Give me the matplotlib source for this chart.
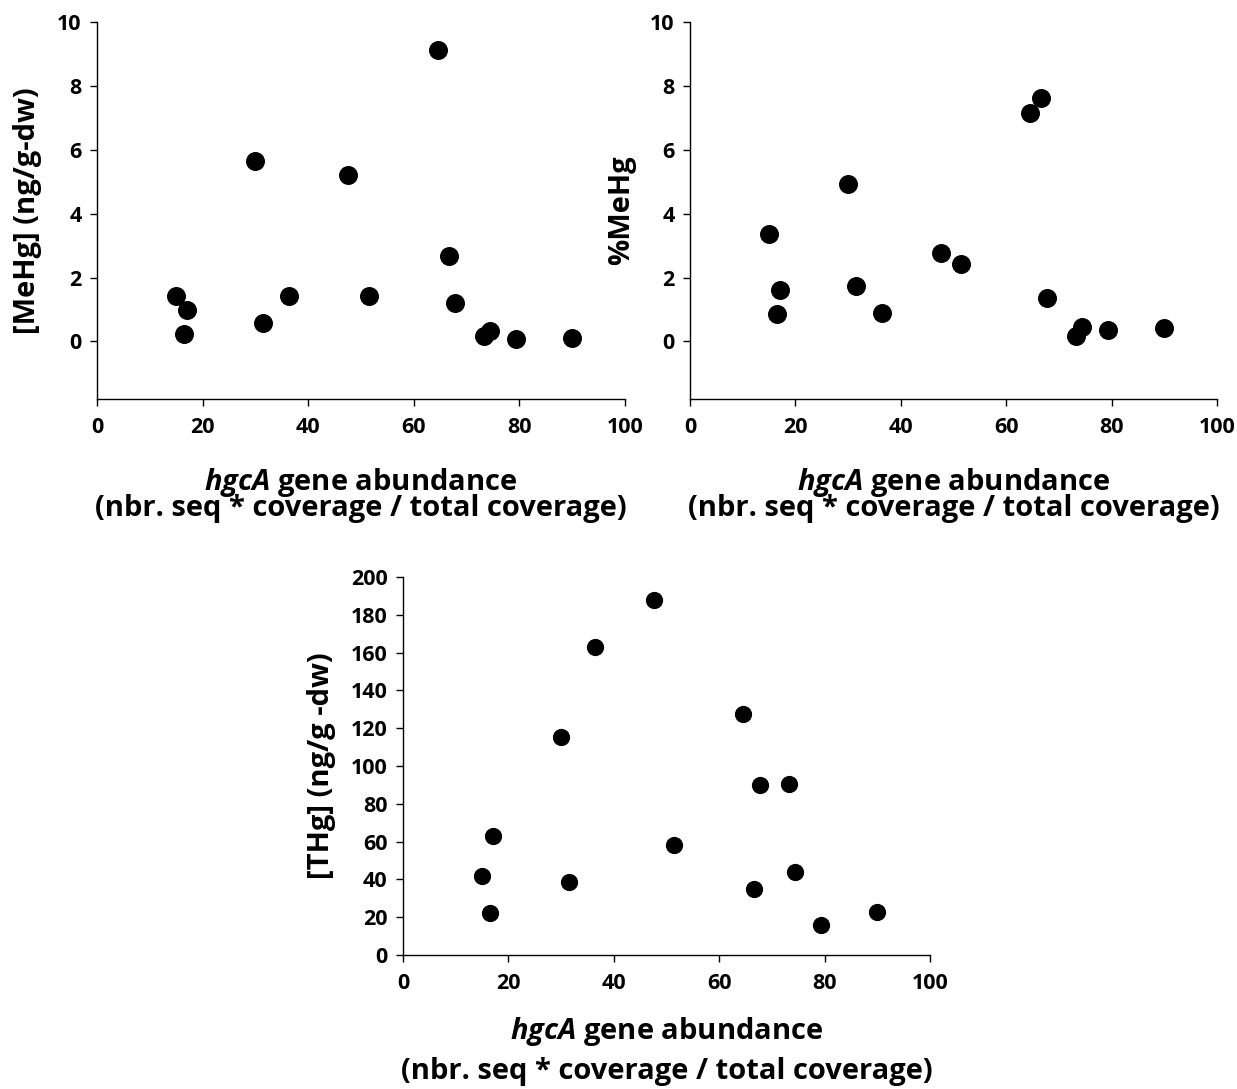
import matplotlib
matplotlib.use("Agg")
import matplotlib.pyplot as plt

plt.rcParams["font.family"] = ["Open Sans", "DejaVu Sans"]
plt.rcParams["font.weight"] = "bold"
plt.rcParams["mathtext.fontset"] = "custom"
plt.rcParams["mathtext.bfit"] = "Open Sans:italic:bold"
plt.rcParams["mathtext.bf"] = "Open Sans:bold"
plt.rcParams["mathtext.it"] = "Open Sans:italic"

# hgcA gene abundance (shared x for all three panels)
hgca = [15.0, 16.5, 17.0, 30.0, 31.5, 36.4, 47.6, 51.5, 64.5, 66.6, 67.8, 73.3, 74.4, 79.3, 90.0]
# y values in the same sample order
mehg = [1.43, 0.22, 1.00, 5.65, 0.59, 1.42, 5.22, 1.42, 9.12, 2.67, 1.22, 0.18, 0.32, 0.07, 0.12]
pct_mehg = [3.38, 0.87, 1.60, 4.92, 1.73, 0.88, 2.78, 2.42, 7.16, 7.63, 1.36, 0.18, 0.44, 0.36, 0.41]
thg = [42.0, 22.0, 62.7, 115.3, 38.8, 163.0, 188.0, 58.3, 127.5, 35.0, 90.0, 90.3, 43.8, 16.0, 23.0]

W, H = 1237, 1089
fig = plt.figure(figsize=(W / 100, H / 100), dpi=100)


def frac(left, top, right, bottom):
    return [left / W, 1 - bottom / H, (right - left) / W, (bottom - top) / H]


def style(ax, ylim, yticks):
    ax.set_xlim(0, 100)
    ax.set_ylim(*ylim)
    ax.set_xticks(range(0, 101, 20))
    ax.set_yticks(yticks)
    for s in ["top", "right"]:
        ax.spines[s].set_visible(False)
    for s in ["left", "bottom"]:
        ax.spines[s].set_linewidth(1.0)
    ax.tick_params(direction="out", length=5, width=1.0, labelsize=15.5)
    ax.tick_params(axis="y", pad=6)
    ax.tick_params(axis="x", pad=8)
    for lab in ax.get_xticklabels() + ax.get_yticklabels():
        lab.set_fontweight("bold")


xlab = "$\\mathbfit{hgcA}$ gene abundance\n(nbr. seq * coverage / total coverage)"
LABEL_FS = 21

# top left: [MeHg]
ax1 = fig.add_axes(frac(97, 22, 625, 399))
ax1.scatter(hgca, mehg, s=160, color="black", zorder=3)
style(ax1, (-1.8, 10), range(0, 11, 2))
ax1.set_ylabel("[MeHg] (ng/g-dw)", fontsize=LABEL_FS, fontweight="bold", va="center")
ax1.yaxis.set_label_coords(-0.131, 0.5)
ax1.set_xlabel(xlab, fontsize=LABEL_FS, fontweight="bold", linespacing=0.78, va="top")
ax1.xaxis.set_label_coords(0.5, -0.178)

# top right: %MeHg
ax2 = fig.add_axes(frac(690, 22, 1217, 399))
ax2.scatter(hgca, pct_mehg, s=160, color="black", zorder=3)
style(ax2, (-1.8, 10), range(0, 11, 2))
ax2.set_ylabel("%MeHg", fontsize=LABEL_FS, fontweight="bold", va="center")
ax2.yaxis.set_label_coords(-0.13, 0.5)
ax2.set_xlabel(xlab, fontsize=LABEL_FS, fontweight="bold", linespacing=0.78, va="top")
ax2.xaxis.set_label_coords(0.5, -0.178)

# bottom: [THg]
ax3 = fig.add_axes(frac(403, 577, 930, 955))
ax3.scatter(hgca, thg, s=130, color="black", zorder=3)
style(ax3, (0, 200), range(0, 201, 20))
ax3.set_ylabel("[THg] (ng/g -dw)", fontsize=LABEL_FS, fontweight="bold", va="center")
ax3.yaxis.set_label_coords(-0.155, 0.5)
ax3.set_xlabel(xlab, fontsize=LABEL_FS, fontweight="bold", linespacing=1.42, va="top")
ax3.xaxis.set_label_coords(0.5, -0.158)

fig.savefig("out.png", dpi=100, facecolor="white")
